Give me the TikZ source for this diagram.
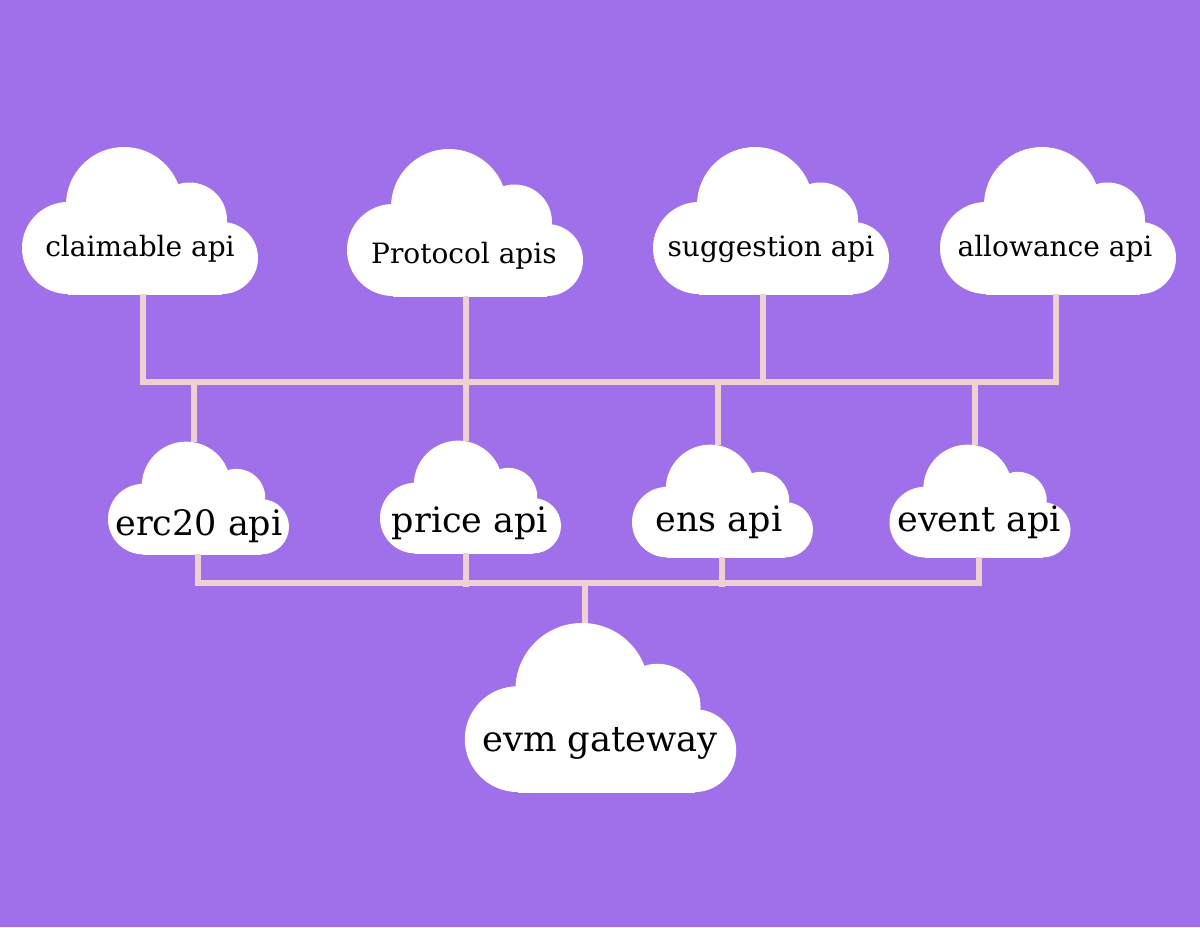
\documentclass[tikz,border=0pt]{standalone}
\usepackage{fontspec}
\setmainfont{DejaVu Serif}
\definecolor{bgviolet}{HTML}{9F70E9}
\definecolor{wirepink}{HTML}{EFD1D3}
\def\px{0.6pt}
\tikzset{
  wire/.style={draw=wirepink, line width=6*\px, line join=miter},
  cloud/.style={inner sep=0pt, outer sep=0pt, minimum width=236*#1*\px, minimum height=147*#1*\px,
    path picture={
      \fill[white] (-16*#1,-15.5*#1) circle[radius=58*#1];
      \fill[white] (-72*#1,27.5*#1) circle[radius=46*#1];
      \fill[white] (49.5*#1,-0.5*#1) circle[radius=37.5*#1];
      \fill[white] (82*#1,37.5*#1) circle[radius=36*#1];
      \fill[white] (-72*#1,-13.5*#1) rectangle (82*#1,76*#1);}},
  cloudtext/.style={inner sep=0pt, text=black, font=\fontsize{#1}{#1}\selectfont}
}
\begin{document}
\begin{tikzpicture}[x=\px, y=-\px]
  \useasboundingbox[fill=bgviolet] (0,0) rectangle (1200,927);
  % name/centre/scale/text position/size/text
  \foreach \name/\cx/\cy/\s/\tx/\ty/\fs/\txt in {
    claimable/140/220.5/1/140/249/16.8/claimable api,
    protocol/465/222.5/1/464/256/16.8/Protocol apis,
    suggestion/771/220.5/1/771/249/16.8/suggestion api,
    allowance/1058/220.5/1/1055/249/16.8/allowance api,
    erc20/198.5/498/0.767/199/526/21/erc20 api,
    price/470.5/497/0.767/470/523/21/price api,
    ens/722.5/501/0.767/719/522/21/ens api,
    event/980/501/0.767/979/522/21/event api,
    evm/600.5/707.5/1.15/600/743/21.2/evm gateway}
  {
    \path (\cx,\cy) node[cloud=\s] (\name) {};
    \path (\tx,\ty) node[cloudtext=\fs] (\name-text) {\txt};
  }
  \coordinate (topleft) at (143,382);
  \coordinate (topright) at (1056,382);
  \coordinate (lowleft) at (198,583);
  \coordinate (lowright) at (979,583);
  % upper row to bus
  \draw[wire] ([xshift=3*\px]claimable.south) -- (topleft) -- (topright) -- ([xshift=-2*\px]allowance.south);
  \draw[wire] ([xshift=1*\px]protocol.south) -- ([xshift=-4.5*\px]price.north);
  \draw[wire] ([xshift=-8*\px]suggestion.south) -- ([xshift=-8*\px]suggestion.south |- topleft);
  % bus to middle row
  \draw[wire] ([xshift=-4.5*\px]erc20.north |- topleft) -- ([xshift=-4.5*\px]erc20.north);
  \draw[wire] ([xshift=-4.5*\px]ens.north |- topleft) -- ([xshift=-4.5*\px]ens.north);
  \draw[wire] ([xshift=-5*\px]event.north |- topleft) -- ([xshift=-5*\px]event.north);
  % middle row to gateway
  \draw[wire] ([xshift=-0.5*\px]erc20.south) -- (lowleft) -- (lowright) -- ([xshift=-1*\px]event.south);
  \draw[wire] ([xshift=-4.5*\px]price.south) -- ([xshift=-4.5*\px,yshift=-4*\px]price.south |- lowleft);
  \draw[wire] ([xshift=-0.5*\px]ens.south) -- ([xshift=-0.5*\px,yshift=-4*\px]ens.south |- lowleft);
  \draw[wire] ([xshift=-15.5*\px]evm.north |- lowleft) -- ([xshift=-15.5*\px]evm.north);
\end{tikzpicture}
\end{document}
